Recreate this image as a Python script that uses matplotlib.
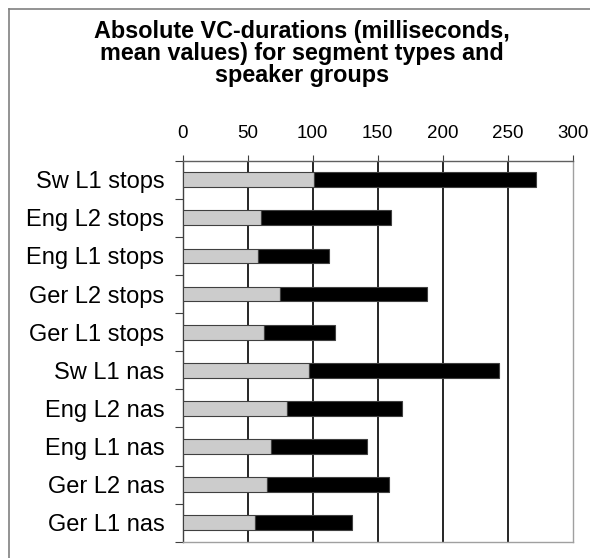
import numpy as np
import matplotlib.pyplot as plt
from matplotlib.lines import Line2D

# Data (ms, mean values), top row first
grupper = ["Sw L1 stops", "Eng L2 stops", "Eng L1 stops", "Ger L2 stops",
           "Ger L1 stops", "Sw L1 nas", "Eng L2 nas", "Eng L1 nas",
           "Ger L2 nas", "Ger L1 nas"]
vokal = [101, 60, 58, 75, 63, 97, 80, 68, 65, 56]
konsonant = [171, 100, 55, 113, 54, 146, 89, 74, 94, 74]
x_ticks = [0, 50, 100, 150, 200, 250, 300]

plt.rcParams['font.family'] = ['Liberation Sans', 'DejaVu Sans']

W, H = 590, 558
fig = plt.figure(figsize=(W / 100, H / 100), dpi=100)
fig.patch.set_facecolor('white')

# chart area frame (only top and left visible)
fig.add_artist(Line2D([9 / W, 9 / W], [0, 1 - 9 / H], transform=fig.transFigure,
                      color='#808080', lw=1.2))
fig.add_artist(Line2D([9 / W, 1], [1 - 9 / H, 1 - 9 / H], transform=fig.transFigure,
                      color='#808080', lw=1.2))

ax = fig.add_axes([182.5 / W, 1 - 541.7 / H, 390.2 / W, 381 / H])

y = np.arange(len(grupper))
ax.barh(y, vokal, height=0.39, color='#cccccc', edgecolor='#404040', lw=0.8, zorder=3)
ax.barh(y, konsonant, left=vokal, height=0.39, color='black',
        edgecolor='#404040', lw=0.8, zorder=3)

ax.set_xlim(0, 300)
ax.set_ylim(len(grupper) - 0.5, -0.5)

ax.xaxis.tick_top()
ax.set_xticks(x_ticks)
ax.set_xticklabels([str(t) for t in x_ticks], fontsize=13.5)
ax.tick_params(axis='x', direction='out', length=4.5, width=0.8, pad=9,
               color='#404040')
for v in x_ticks[1:-1]:
    ax.axvline(v, color='black', lw=1.2, zorder=1)

# y ticks on category boundaries, labels at centers
ax.set_yticks(np.arange(len(grupper) + 1) - 0.5)
ax.set_yticklabels([])
ax.set_yticks(y, minor=True)
ax.set_yticklabels(grupper, minor=True, fontsize=17)
ax.tick_params(axis='y', which='major', direction='out', length=6, width=0.8,
               color='#404040')
ax.tick_params(axis='y', which='minor', length=0, pad=13)

ax.spines['left'].set_color('#404040')
ax.spines['top'].set_color('#606060')
ax.spines['right'].set_color('#a0a0a0')
ax.spines['bottom'].set_color('#a0a0a0')
for s in ax.spines.values():
    s.set_linewidth(1.0)

fig.text(302 / W, 1 - 20 / H,
         "Absolute VC-durations (milliseconds,\nmean values) for segment types and\nspeaker groups",
         ha='center', va='top', fontsize=16.8, fontweight='bold', linespacing=0.95)

fig.savefig('out.png', dpi=100, facecolor='white')
